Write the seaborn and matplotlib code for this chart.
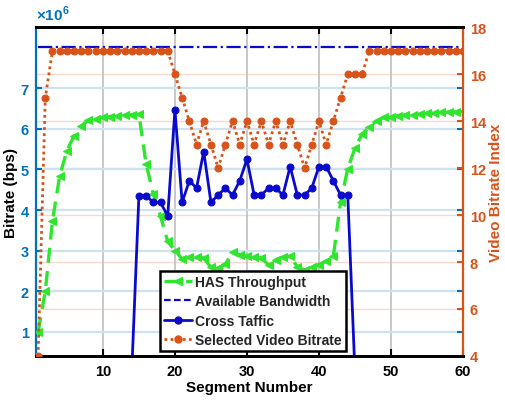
import numpy as np
import pandas as pd
import matplotlib
matplotlib.use("Agg")
import matplotlib.pyplot as plt
import matplotlib.transforms as mtransforms
from matplotlib.lines import Line2D
import seaborn as sns

# ---------------- data ----------------
segments = list(range(1, 61))

has_throughput_mbps = [
    1.00, 2.00, 3.74, 4.84, 5.46, 5.83, 6.07, 6.21, 6.25, 6.28,
    6.30, 6.31, 6.33, 6.35, 6.36, 5.13, 4.40, 3.85, 3.23, 3.00,
    2.80, 2.84, 2.84, 2.82, 2.59, 2.57, 2.67, 2.96, 2.90, 2.86,
    2.84, 2.82, 2.65, 2.78, 2.84, 2.87, 2.60, 2.53, 2.60, 2.66,
    2.74, 2.87, 4.19, 5.02, 5.52, 5.87, 6.05, 6.20, 6.28, 6.30,
    6.32, 6.34, 6.35, 6.36, 6.38, 6.39, 6.40, 6.41, 6.42, 6.44,
]

available_bw_mbps = [8.0] * 60

cross_traffic_mbps = [
    0, 0, 0, 0, 0, 0, 0, 0, 0, 0,
    0, 0, 0, 0, 4.35, 4.35, 4.19, 4.19, 3.85, 6.47,
    4.19, 4.72, 4.54, 5.44, 4.19, 4.37, 4.54, 4.37, 4.72, 5.25,
    4.37, 4.37, 4.54, 4.54, 4.37, 5.07, 4.37, 4.37, 4.54, 5.07,
    5.07, 4.72, 4.37, 4.37, 0, 0, 0, 0, 0, 0,
    0, 0, 0, 0, 0, 0, 0, 0, 0, 0,
]

selected_index = [
    4, 15, 17, 17, 17, 17, 17, 17, 17, 17,
    17, 17, 17, 17, 17, 17, 17, 17, 17, 16,
    15, 14, 13, 14, 13, 12, 13, 14, 13, 14,
    13, 14, 13, 14, 13, 14, 13, 12, 13, 14,
    13, 14, 15, 16, 16, 16, 17, 17, 17, 17,
    17, 17, 17, 17, 17, 17, 17, 17, 17, 17,
]

x_ticks = [10, 20, 30, 40, 50, 60]
left_ticks = [1, 2, 3, 4, 5, 6, 7]          # x 10^6 bps
right_ticks = [4, 6, 8, 10, 12, 14, 16, 18]

labels = ["HAS Throughput", "Available Bandwidth", "Cross Taffic",
          "Selected Video Bitrate"]

# ---------------- style ----------------
sns.set_theme(style="white")
plt.rcParams["font.family"] = ["Liberation Sans", "DejaVu Sans"]
plt.rcParams["font.weight"] = "bold"
plt.rcParams["mathtext.fontset"] = "custom"
plt.rcParams["mathtext.rm"] = "Liberation Sans"
plt.rcParams["mathtext.bf"] = "Liberation Sans:bold"

BLUE_AX = "#0072BD"
ORANGE = "#D95319"
GREEN = "#2EE62E"
BLUE_LINE = "#0A0ACD"

scale = 1e6
df = pd.DataFrame({
    "segment": segments,
    "has": np.array(has_throughput_mbps) * scale,
    "bw": np.array(available_bw_mbps) * scale,
    "cross": np.array(cross_traffic_mbps) * scale,
    "sel": selected_index,
})

fig = plt.figure(figsize=(5.06, 4.02), dpi=100)
ax1 = fig.add_axes([0.071, 0.112, 0.844, 0.818])
ax2 = ax1.twinx()

# grids (drawn on ax1 so they sit under all data)
ax1.set_axisbelow(True)
ax1.grid(axis="x", color="#C4C4C4", lw=1.3)
ax1.grid(axis="y", color="#CFE2F0", lw=1.6)
blend = mtransforms.blended_transform_factory(ax1.transAxes, ax2.transData)
for v in right_ticks[1:-1]:
    ax1.plot([0, 1], [v, v], transform=blend, color="#F6D9CD", lw=1.0,
             zorder=0.5)

# series
sns.lineplot(data=df, x="segment", y="has", ax=ax1, color=GREEN,
             linestyle=(0, (4.5, 2.5)), lw=2.4, marker="<", markersize=6,
             markeredgecolor=GREEN, markerfacecolor=GREEN, zorder=3)
sns.lineplot(data=df, x="segment", y="bw", ax=ax1, color=BLUE_LINE,
             linestyle="-.", lw=1.6, zorder=3)
sns.lineplot(data=df, x="segment", y="cross", ax=ax1, color=BLUE_LINE,
             linestyle="-", lw=2.0, marker="o", markersize=5,
             markeredgecolor=BLUE_LINE, markerfacecolor=BLUE_LINE, zorder=4)
sns.lineplot(data=df, x="segment", y="sel", ax=ax2, color=ORANGE,
             linestyle=(0, (1, 1.2)), lw=2.0, marker="o", markersize=5,
             markeredgecolor=ORANGE, markerfacecolor=ORANGE, zorder=3)

# limits
ax1.set_xlim(0.7, 60)
ax1.set_ylim(0.41e6, 8.5e6)
ax2.set_ylim(4, 18)

# ticks
ax1.set_xticks(x_ticks)
ax1.set_xticklabels([str(t) for t in x_ticks], fontsize=10.5,
                    fontweight="bold")
ax1.set_yticks([t * scale for t in left_ticks])
ax1.set_yticklabels([str(t) for t in left_ticks], fontsize=10.5,
                    fontweight="bold")
ax2.set_yticks(right_ticks)
ax2.set_yticklabels([str(t) for t in right_ticks], fontsize=10.5,
                    fontweight="bold")

ax1.tick_params(axis="x", direction="in", top=True, bottom=True, length=5,
                width=1.5, colors="black", pad=5.5)
ax1.tick_params(axis="y", direction="in", left=True, right=True,
                labelright=False, length=4, width=1.5, colors=BLUE_AX, pad=5)
ax2.tick_params(axis="y", direction="in", right=True, length=4, width=1.5,
                colors=ORANGE, pad=5)

# spines
for ax in (ax1, ax2):
    ax.spines["top"].set_color("black")
    ax.spines["bottom"].set_color("black")
    ax.spines["top"].set_linewidth(2)
    ax.spines["bottom"].set_linewidth(2)
ax1.spines["right"].set_visible(False)
ax2.spines["left"].set_visible(False)
ax1.spines["left"].set_color(BLUE_AX)
ax1.spines["left"].set_linewidth(1.6)
ax2.spines["right"].set_color(ORANGE)
ax2.spines["right"].set_linewidth(1.6)

# labels
ax1.set_xlabel("Segment Number", fontsize=11, fontweight="bold",
               color="black", labelpad=2)
ax1.set_ylabel("Bitrate (bps)", fontsize=11, fontweight="bold",
               color="black", labelpad=2)
ax2.set_ylabel("Video Bitrate Index", fontsize=11, fontweight="bold",
               color=ORANGE, labelpad=2)
ax1.text(0.0, 1.012, r"$\times\mathbf{10}^{\mathbf{6}}$", transform=ax1.transAxes,
         color=BLUE_AX, fontsize=11, ha="left", va="bottom")

# legend
handles = [
    Line2D([], [], color=GREEN, linestyle=(0, (4, 2.5)), lw=2.4, marker="<",
           markersize=6, markerfacecolor=GREEN, markeredgecolor=GREEN),
    Line2D([], [], color=BLUE_LINE, linestyle=(0, (3, 1.5)), lw=1.6),
    Line2D([], [], color=BLUE_LINE, linestyle="-", lw=2.0, marker="o",
           markersize=5, markerfacecolor=BLUE_LINE, markeredgecolor=BLUE_LINE),
    Line2D([], [], color=ORANGE, linestyle=(0, (1, 1.2)), lw=2.0, marker="o",
           markersize=5, markerfacecolor=ORANGE, markeredgecolor=ORANGE),
]
leg = ax2.legend(handles, labels, loc="lower left",
                 bbox_to_anchor=(0.29, 0.015), bbox_transform=ax1.transAxes,
                 prop={"size": 10, "weight": "bold"}, frameon=True,
                 fancybox=False, borderpad=0.3, labelspacing=0.38,
                 handlelength=2.0, handletextpad=0.25, borderaxespad=0)
leg.get_frame().set_edgecolor("black")
leg.get_frame().set_linewidth(1.8)
leg.get_frame().set_facecolor("white")
leg.get_frame().set_alpha(1)
leg.set_zorder(10)

fig.savefig("out.png", dpi=100)
